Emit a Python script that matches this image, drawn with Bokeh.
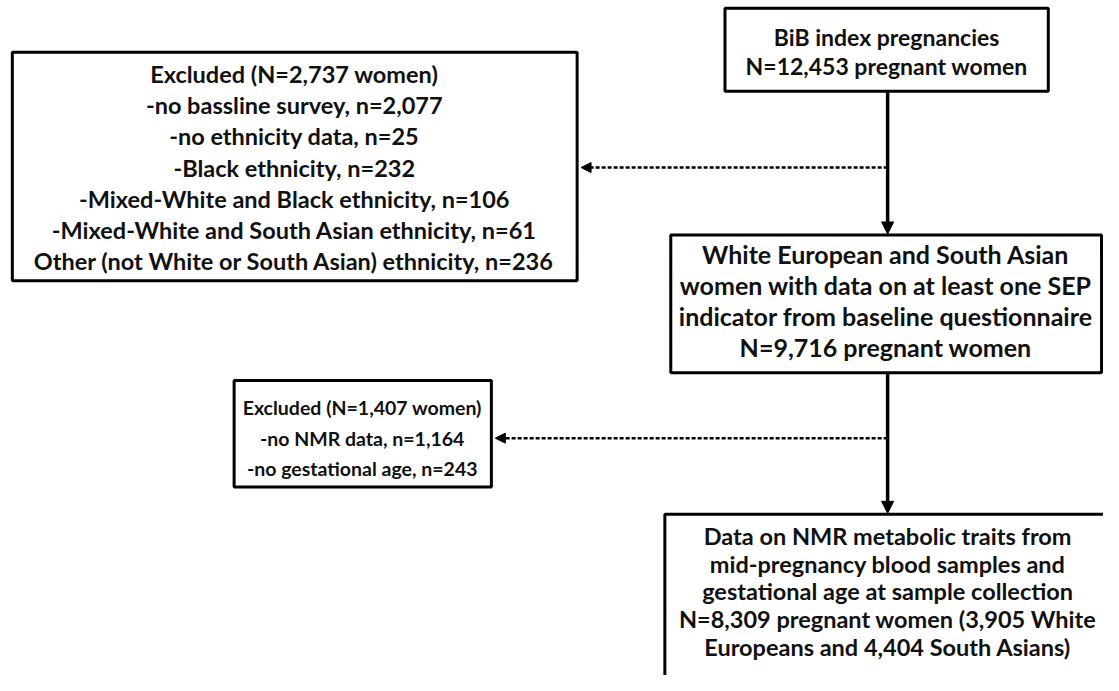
from bokeh.plotting import figure
from bokeh.models import Range1d, Arrow, NormalHead, ColumnDataSource
from bokeh.core.properties import value
from bokeh.embed import file_html
from bokeh.resources import INLINE

# ---- data: text of each box ----
box1_lines = ["BiB index pregnancies", "N=12,453 pregnant women"]
box2_lines = [
    "Excluded (N=2,737 women)",
    "-no bassline survey, n=2,077",
    "-no ethnicity data, n=25",
    "-Black ethnicity, n=232",
    "-Mixed-White and Black ethnicity, n=106",
    "-Mixed-White and South Asian ethnicity, n=61",
    "Other (not White or South Asian) ethnicity, n=236",
]
box3_lines = [
    "White European and South Asian",
    "women with data on at least one SEP",
    "indicator from baseline questionnaire",
    "N=9,716 pregnant women",
]
box4_lines = [
    "Excluded (N=1,407 women)",
    "-no NMR data, n=1,164",
    "-no gestational age, n=243",
]
box5_lines = [
    "Data on NMR metabolic traits from",
    "mid-pregnancy blood samples and",
    "gestational age at sample collection",
    "N=8,309 pregnant women (3,905 White",
    "Europeans and 4,404 South Asians)",
]

# ---- layout: reference-pixel coordinates, y downward ----
W, H = 1103, 675
p = figure(width=W, height=H, output_backend="svg", toolbar_location=None,
           x_range=Range1d(0, 1119), y_range=Range1d(691, 0),
           min_border=0, outline_line_color=None)
p.axis.visible = False
p.grid.visible = False
p.background_fill_color = "white"
p.border_fill_color = "white"

FONT = value("Lato")
LW = 3

def box(x0, x1, y0, y1):
    p.quad(left=[x0], right=[x1], top=[y0], bottom=[y1],
           fill_color="white", line_color="black", line_width=LW)

def lines(texts, cx, first_y, step, size):
    ys = [first_y + i * step for i in range(len(texts))]
    src = ColumnDataSource(dict(x=[cx] * len(texts), y=ys, t=texts))
    p.text(x="x", y="y", text="t", source=src, text_align="center",
           text_baseline="middle", text_font=FONT, text_font_style="bold",
           text_font_size=size, text_color="#111111")

def solid_arrow(x, y0, y1):
    p.add_layout(Arrow(x_start=x, y_start=y0, x_end=x, y_end=y1,
                       line_width=3.5, line_color="black",
                       end=NormalHead(size=12, fill_color="black",
                                      line_color="black", line_width=1)))

def dashed_arrow(y, x0, x1):
    p.add_layout(Arrow(x_start=x0, y_start=y, x_end=x1, y_end=y,
                       line_width=2.5, line_color="black", line_dash="4 2",
                       end=NormalHead(size=10, fill_color="black",
                                      line_color="black", line_width=1)))

# connectors
solid_arrow(900, 93, 239)
dashed_arrow(171, 900, 589)
solid_arrow(900, 381, 525)
dashed_arrow(448, 900, 502)

# boxes
box(735, 1063, 8, 93)
lines(box1_lines, 899, 37, 30, "23px")

box(12, 585, 53, 287)
lines(box2_lines, 298, 75, 32, "23.5px")

box(680, 1117, 240, 381)
lines(box3_lines, 898, 259, 32, "25px")

box(237, 498, 389, 498)
lines(box4_lines, 367, 417, 31, "19.5px")

# bottom box runs past the edges of the picture
box(674, 1140, 526, 720)
lines(box5_lines, 900, 548, 28.5, "23.5px")

open("out.html", "w").write(file_html(p, INLINE))
